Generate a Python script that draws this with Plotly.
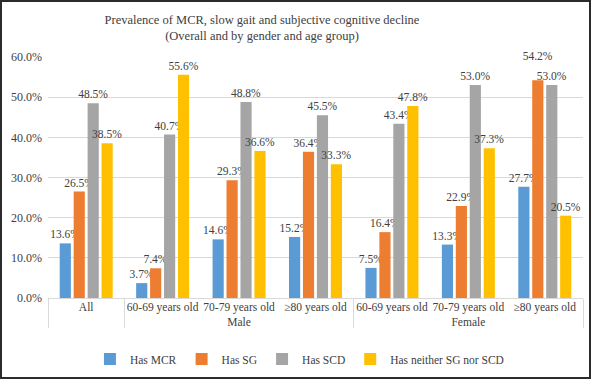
import plotly.graph_objects as go

groups = [" ", "Male", "Male", "Male", "Female", "Female", "Female"]
categories = ["All", "60-69 years old", "70-79 years old", "≥80 years old",
              "60-69 years old", "70-79 years old", "≥80 years old"]
series_names = ["Has MCR", "Has SG", "Has SCD", "Has neither SG nor SCD"]
has_mcr = [13.6, 3.7, 14.6, 15.2, 7.5, 13.3, 27.7]
has_sg = [26.5, 7.4, 29.3, 36.4, 16.4, 22.9, 54.2]
has_scd = [48.5, 40.7, 48.8, 45.5, 43.4, 53.0, 53.0]
has_neither = [38.5, 55.6, 36.6, 33.3, 47.8, 37.3, 20.5]
y_ticks = [0, 10, 20, 30, 40, 50, 60]
colors = ["#5B9BD5", "#ED7D31", "#A5A5A5", "#FFC000"]

FONT = "Liberation Serif, Times New Roman, serif"
W, H = 591, 379
ml, mr, mt, mb = 48, 8, 57, 81
pw, ph = W - ml - mr, H - mt - mb

all_series = [has_mcr, has_sg, has_scd, has_neither]
labels = [[f"{v:.1f}%" for v in s] for s in all_series]
# de-collide labels of neighbouring bars with nearly equal heights: lift the taller one a line
for k in range(len(all_series) - 1):
    a, b = all_series[k], all_series[k + 1]
    for i in range(len(a)):
        if abs(a[i] - b[i]) < 2.0:
            j = k if a[i] >= b[i] else k + 1
            labels[j][i] = labels[j][i] + "<br> "

fig = go.Figure()
for name, vals, txt, col in zip(series_names, all_series, labels, colors):
    fig.add_trace(go.Bar(
        x=[groups, categories], y=vals, name=name,
        marker=dict(color=col, line=dict(width=0)),
        text=txt, textposition="outside",
        textfont=dict(family=FONT, size=11.5, color="#404040"),
        constraintext="none", cliponaxis=False,
    ))

fig.update_layout(
    width=W, height=H,
    margin=dict(l=ml, r=mr, t=mt, b=mb, autoexpand=False),
    paper_bgcolor="white", plot_bgcolor="white",
    barmode="group", bargap=0.27, bargroupgap=0.2,
    font=dict(family=FONT, color="#404040"),
    title=dict(text="Prevalence of MCR, slow gait and subjective cognitive decline<br>(Overall and by gender and age group)",
               x=262 / W, xanchor="center", xref="container",
               y=1 - 24 / H, yanchor="middle", yref="container",
               font=dict(family=FONT, size=12.5, color="#404040")),
    xaxis=dict(type="multicategory", showgrid=False, showline=False, automargin=False,
               tickangle=0,
               tickfont=dict(family=FONT, size=11.5, color="#404040"),
               showdividers=True, dividercolor="#D9D9D9", dividerwidth=1,
               ticks=""),
    yaxis=dict(range=[0, 60], tickvals=y_ticks, ticktext=[f"{v:.1f}%" for v in y_ticks],
               showgrid=True, gridcolor="#D9D9D9", gridwidth=1, automargin=False,
               zeroline=True, zerolinecolor="#D9D9D9", zerolinewidth=1,
               showline=False, ticks="", ticklabelstandoff=5,
               tickfont=dict(family=FONT, size=12, color="#404040")),
    legend=dict(orientation="h", x=0.47, xanchor="center", y=(297 - 358) / ph, yanchor="middle",
                font=dict(family=FONT, size=11.5, color="#404040"),
                itemwidth=30, traceorder="normal"),
    shapes=[dict(type="rect", xref="paper", yref="paper",
                 x0=(-ml + 1) / pw, x1=1 + (mr - 1) / pw,
                 y0=(-mb + 1) / ph, y1=1 + (mt - 1) / ph,
                 line=dict(color="#2b2b2b", width=2), fillcolor="rgba(0,0,0,0)", layer="above")],
)

fig.write_html("out.html", config={"displayModeBar": False},
               post_script="document.body.style.margin='0';")
